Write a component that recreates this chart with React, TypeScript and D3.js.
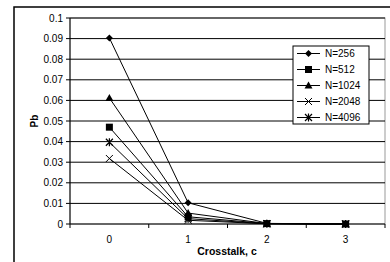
import React from 'react';
import * as d3 from 'd3';

const categories = ['0', '1', '2', '3'];
const seriesNames = ['N=256', 'N=512', 'N=1024', 'N=2048', 'N=4096'];
const n256 = [0.0903, 0.0103, 0.0003, 0.0];
const n512 = [0.047, 0.0035, 0.0002, 0.0];
const n1024 = [0.0612, 0.0053, 0.0002, 0.0];
const n2048 = [0.0318, 0.0018, 0.0001, 0.0];
const n4096 = [0.0397, 0.0026, 0.0001, 0.0];
const yTicks = [0, 0.01, 0.02, 0.03, 0.04, 0.05, 0.06, 0.07, 0.08, 0.09, 0.1];

const allSeries = [n256, n512, n1024, n2048, n4096];
const markerTypes = ['diamond', 'square', 'triangle', 'x', 'star'];
// the square series sits on top near zero in the original
const drawOrder = [0, 2, 3, 4, 1];

const font = 'Liberation Sans, Arial, sans-serif';

const Marker = ({ type, x, y }: { type: string; x: number; y: number }) => {
  if (type === 'diamond') {
    return <path d={`M${x},${y - 3.5}L${x + 3.5},${y}L${x},${y + 3.5}L${x - 3.5},${y}Z`} fill="#000" />;
  }
  if (type === 'square') {
    return <rect x={x - 3.5} y={y - 3.5} width={7} height={7} fill="#000" />;
  }
  if (type === 'triangle') {
    return <path d={`M${x},${y - 4}L${x + 4},${y + 3}L${x - 4},${y + 3}Z`} fill="#000" />;
  }
  if (type === 'x') {
    return (
      <path d={`M${x - 3.5},${y - 3.5}L${x + 3.5},${y + 3.5}M${x + 3.5},${y - 3.5}L${x - 3.5},${y + 3.5}`} stroke="#000" strokeWidth={1} />
    );
  }
  return (
    <path
      d={`M${x - 3.5},${y - 3.5}L${x + 3.5},${y + 3.5}M${x + 3.5},${y - 3.5}L${x - 3.5},${y + 3.5}M${x},${y - 4}L${x},${y + 4}`}
      stroke="#000"
      strokeWidth={1.2}
    />
  );
};

export default function App() {
  const left = 70;
  const right = 385;
  const top = 18;
  const bottom = 224;

  const xBand = d3.scaleBand().domain(categories).range([left, right]);
  const x = (c: string) => (xBand(c) as number) + xBand.bandwidth() / 2;
  const y = d3.scaleLinear().domain([0, 0.1]).range([bottom, top]);

  const line = d3
    .line<number>()
    .x((_, i) => x(categories[i]))
    .y((d) => y(d));

  const boundaries = categories.map((c) => xBand(c) as number).concat([right]);

  const legX = 293;
  const legY = 46;
  const legW = 76;
  const legH = 78;
  const rowH = 16;

  return (
    <svg width={390} height={262} style={{ position: 'absolute', left: 0, top: 0, background: '#fff' }} fontFamily={font}>
      <rect x={0} y={0} width={390} height={262} fill="#fff" />
      {/* outer chart frame */}
      <rect x={14} y={7} width={400} height={280} fill="none" stroke="#000" strokeWidth={1.5} />

      {/* plot area border */}
      <rect x={left} y={top} width={right - left} height={bottom - top} fill="none" stroke="#999" strokeWidth={1} />

      {/* gridlines */}
      {yTicks.slice(1).map((t) => (
        <line key={t} x1={left} x2={right} y1={y(t)} y2={y(t)} stroke="#000" strokeWidth={1} />
      ))}

      {/* y axis */}
      <line x1={left} x2={left} y1={top} y2={bottom} stroke="#000" />
      {yTicks.map((t) => (
        <g key={t}>
          <line x1={left - 4} x2={left} y1={y(t)} y2={y(t)} stroke="#000" />
          <text x={left - 7} y={y(t)} dy="0.35em" textAnchor="end" fontSize={10} fill="#000">
            {t === 0 ? '0' : d3.format('.2~f')(t)}
          </text>
        </g>
      ))}

      {/* x axis */}
      <line x1={left} x2={right} y1={bottom} y2={bottom} stroke="#000" />
      {boundaries.map((b, i) => (
        <line key={i} x1={b} x2={b} y1={bottom} y2={bottom + 4} stroke="#000" />
      ))}
      {categories.map((c) => (
        <text key={c} x={x(c)} y={bottom + 15} dy="0.35em" textAnchor="middle" fontSize={10} fill="#000">
          {c}
        </text>
      ))}

      {/* axis titles */}
      <text x={227} y={251} dy="0.35em" textAnchor="middle" fontSize={10.5} fontWeight="bold" fill="#000">
        Crosstalk, c
      </text>
      <text transform="translate(34,121) rotate(-90)" textAnchor="middle" dy="0.35em" fontSize={10} fontWeight="bold" fill="#000">
        Pb
      </text>

      {/* series */}
      {drawOrder.map((si) => (
        <g key={si}>
          <path d={line(allSeries[si]) as string} fill="none" stroke="#000" strokeWidth={1} />
          {allSeries[si].map((v, i) => (
            <Marker key={i} type={markerTypes[si]} x={x(categories[i])} y={y(v)} />
          ))}
        </g>
      ))}

      {/* legend */}
      <rect x={legX} y={legY} width={legW} height={legH} fill="#fff" stroke="#000" strokeWidth={1} />
      {seriesNames.map((name, i) => {
        const ry = legY + 7.5 + i * rowH;
        return (
          <g key={name}>
            <line x1={legX + 4} x2={legX + 27} y1={ry} y2={ry} stroke="#000" />
            <Marker type={markerTypes[i]} x={legX + 15.5} y={ry} />
            <text x={legX + 32} y={ry} dy="0.35em" fontSize={10} fill="#000">
              {name}
            </text>
          </g>
        );
      })}
    </svg>
  );
}
